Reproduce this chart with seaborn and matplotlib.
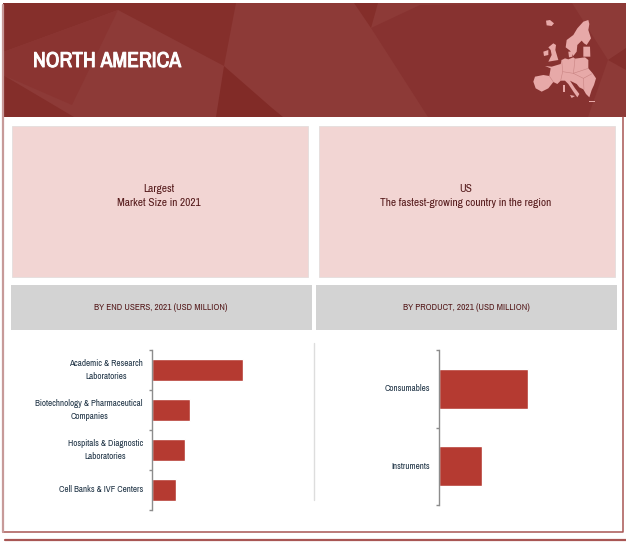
import matplotlib
matplotlib.use("Agg")
import matplotlib.pyplot as plt
import matplotlib.patheffects as pe
from matplotlib.patches import Polygon, Rectangle
import pandas as pd
import seaborn as sns

W, H = 626, 544

# Market size by segment, 2021 (USD million)
end_users = ["Academic & Research\nLaboratories",
             "Biotechnology & Pharmaceutical\nCompanies",
             "Hospitals & Diagnostic\nLaboratories",
             "Cell Banks & IVF Centers"]
end_user_values = [91.5, 38.5, 33, 24]
products = ["Consumables", "Instruments"]
product_values = [89, 43]

BAR = "#B53A31"
FONT = ["Archivo Narrow", "PT Sans Narrow", "Liberation Sans", "DejaVu Sans"]

sns.set_theme(style="white")
plt.rcParams["font.family"] = FONT

fig = plt.figure(figsize=(W / 100, H / 100), dpi=100, facecolor="white")

# Page-wide layer addressed in pixels, holding the frame, banner and panels
page = fig.add_axes([0, 0, 1, 1], zorder=0)
page.set_xlim(0, W)
page.set_ylim(H, 0)
page.axis("off")


def box(x0, y0, x1, y1, color, **kw):
    page.add_patch(Rectangle((x0, y0), x1 - x0, y1 - y0, facecolor=color,
                             edgecolor=kw.pop("edge", "none"), **kw))


# Outer frame and footer rule
page.plot([3, 3, 623, 623], [5, 532, 532, 117], color="#A85654", lw=1.1)
page.plot([3, 3], [5, 532], color="#C79A99", lw=1.6)
page.plot([5, 626], [540, 540], color="#A85654", lw=1.6)

# Banner with subtly faceted shading
box(3, 3, 626, 117, "#8D3A37")
facets = [
    ([(3, 3), (236, 3), (224, 66), (118, 10), (3, 52)], "#852F2B"),
    ([(3, 52), (118, 10), (72, 105), (3, 75)], "#8A3431"),
    ([(3, 75), (74, 117), (3, 117)], "#842E2A"),
    ([(224, 66), (272, 108), (283, 117), (216, 117)], "#812B27"),
    ([(354, 3), (378, 3), (371, 28)], "#842E2A"),
    ([(371, 28), (420, 5), (572, 3), (608, 60), (588, 117), (428, 117)], "#873230"),
    ([(608, 60), (626, 48), (626, 70)], "#842F2C"),
]
for pts, colour in facets:
    page.add_patch(Polygon(pts, closed=True, facecolor=colour, edgecolor="none"))

# Small map of Europe in the banner's corner
MAP_X, MAP_Y = 520, 10
land = [
    [(78, 32), (90, 30), (102, 40), (95, 48), (80, 46)],
    [(205, 30), (190, 35), (172, 55), (160, 75), (140, 90), (137, 112), (150, 122),
     (160, 138), (170, 125), (172, 105), (185, 92), (192, 100), (200, 105), (213, 85),
     (205, 60), (208, 42)],
    [(190, 110), (210, 110), (211, 140), (190, 140)],
    [(100, 100), (108, 105), (106, 120), (115, 150), (85, 155), (95, 135), (92, 120), (85, 112)],
    [(70, 125), (85, 120), (85, 135), (72, 138)],
    [(145, 125), (158, 125), (157, 140), (147, 142)],
    [(45, 200), (70, 195), (88, 198), (92, 175), (75, 168), (95, 170), (122, 162), (125, 150),
     (135, 145), (145, 148), (160, 142), (165, 146), (195, 142), (205, 150), (205, 175),
     (218, 190), (228, 205), (222, 225), (215, 240), (208, 262), (198, 252), (190, 238),
     (178, 232), (170, 222), (150, 212), (165, 235), (178, 252), (172, 262), (160, 245),
     (145, 222), (135, 212), (122, 212), (112, 222), (100, 216), (85, 235), (65, 245),
     (47, 235), (40, 215)],
    [(150, 255), (165, 258), (155, 264)],
    [(128, 225), (136, 225), (136, 245), (128, 245)],
    [(208, 272), (225, 272), (225, 275), (208, 275)],
]
for shape in land:
    pts = [(MAP_X + x / 3, MAP_Y + y / 3) for x, y in shape]
    page.add_patch(Polygon(pts, closed=True, facecolor="#E7A9A8", edgecolor="none"))
borders = [[(125, 150), (128, 185), (122, 212)], [(128, 185), (160, 190), (205, 175)],
           [(165, 146), (162, 175), (160, 190)], [(160, 190), (190, 205), (218, 190)],
           [(190, 205), (192, 238)], [(88, 198), (100, 216)]]
for line in borders:
    page.plot([MAP_X + x / 3 for x, _ in line], [MAP_Y + y / 3 for _, y in line],
              color="#C98483", lw=0.4)

# Title, thickened with a stroke of its own colour
page.text(33, 61, "NORTH AMERICA", color="white", fontsize=15.5, fontweight="bold",
          ha="left", va="center",
          path_effects=[pe.withStroke(linewidth=0.7, foreground="white")])

# Highlight panels
box(12, 126, 308, 277, "#F2D5D3", edge="#E4DEDD", lw=0.6)
box(319, 126, 615, 277, "#F2D5D3", edge="#E4DEDD", lw=0.6)
TEXT_DARK = "#54191A"
page.text(159, 196, "Largest\nMarket Size in 2021", color=TEXT_DARK, fontsize=8.2,
          ha="center", va="center", linespacing=1.5)
page.text(466, 196, "US\nThe fastest-growing country in the region", color=TEXT_DARK,
          fontsize=8.2, ha="center", va="center", linespacing=1.5)

# Section headers
box(10.5, 285, 312, 330, "#D3D3D3")
box(315.5, 285, 617, 330, "#D3D3D3")
page.text(160.5, 308, "BY END USERS, 2021 (USD MILLION)", color=TEXT_DARK, fontsize=6.7,
          ha="center", va="center")
page.text(466, 308, "BY PRODUCT, 2021 (USD MILLION)", color=TEXT_DARK, fontsize=6.7,
          ha="center", va="center")

# Divider between the two charts
page.plot([313.5, 313.5], [343, 500], color="#DDDDDD", lw=1)


def bar_panel(labels, values, x0, x1, y0, y1, width):
    ax = fig.add_axes([x0 / W, 1 - y1 / H, (x1 - x0) / W, (y1 - y0) / H], zorder=1)
    ax.patch.set_alpha(0)
    frame = pd.DataFrame({"segment": labels, "value": values})
    sns.barplot(data=frame, y="segment", x="value", orient="h", color=BAR, saturation=1,
                width=width, ax=ax)
    ax.set_xlim(0, x1 - x0)
    ax.set_ylim(len(labels) - 0.5, -0.5)
    ax.set_xlabel("")
    ax.set_ylabel("")
    ax.set_xticks([])
    for side in ("top", "right", "bottom"):
        ax.spines[side].set_visible(False)
    ax.spines["left"].set_color("#8C8C8C")
    ax.spines["left"].set_linewidth(1)
    # Ticks fall on the category boundaries, with labels centred between them
    ax.set_yticks([i - 0.5 for i in range(len(labels) + 1)], minor=False)
    ax.set_yticklabels([""] * (len(labels) + 1))
    ax.tick_params(axis="y", length=2.5, width=1, color="#8C8C8C", left=True)
    for i, label in enumerate(labels):
        ax.annotate(label, xy=(0, i), xycoords=("axes fraction", "data"),
                    xytext=(-6.2, 0), textcoords="offset points", ha="right", va="center",
                    ma="center", fontsize=6.5, color="#1F3345", linespacing=1.45)
    return ax


bar_panel(end_users, end_user_values, 151.5, 300, 350, 510, 0.53)
bar_panel(products, product_values, 439, 600, 350, 505, 0.51)

fig.savefig("out.png", dpi=100, facecolor="white")
